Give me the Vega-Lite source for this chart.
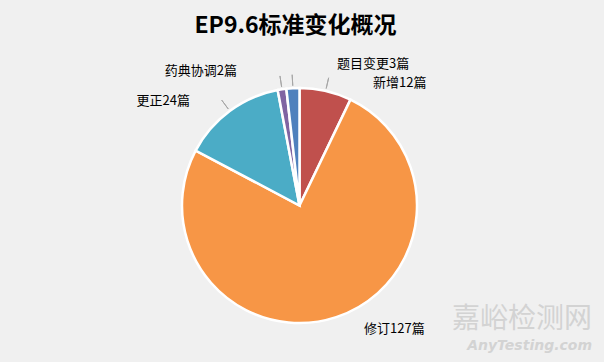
{
  "$schema": "https://vega.github.io/schema/vega-lite/v6.json",
  "width": 604,
  "height": 362,
  "autosize": {"type": "fit", "contains": "padding"},
  "padding": {"left": 0, "right": 5, "top": 15, "bottom": 0},
  "background": "#f0f0f0",
  "title": {
    "text": "EP9.6标准变化概况",
    "font": "Noto Sans CJK SC",
    "fontSize": 23,
    "fontWeight": "bold",
    "color": "#000000",
    "anchor": "middle",
    "offset": 11,
    "dx": -4
  },
  "config": {"view": {"stroke": null}, "text": {"font": "Noto Sans CJK SC", "fontSize": 13, "color": "#000000"}},
  "data": {
    "values": [
      {"类别": "新增", "篇数": 12, "标签": "新增12篇", "序": 1},
      {"类别": "修订", "篇数": 127, "标签": "修订127篇", "序": 2},
      {"类别": "更正", "篇数": 24, "标签": "更正24篇", "序": 3},
      {"类别": "药典协调", "篇数": 2, "标签": "药典协调2篇", "序": 4},
      {"类别": "题目变更", "篇数": 3, "标签": "题目变更3篇", "序": 5}
    ]
  },
  "layer": [
    {
      "mark": {"type": "arc", "outerRadius": 117.5, "stroke": "#ffffff", "strokeWidth": 2.5},
      "encoding": {
        "theta": {"field": "篇数", "type": "quantitative", "stack": true},
        "order": {"field": "序", "type": "quantitative"},
        "color": {
          "field": "类别",
          "type": "nominal",
          "scale": {"domain": ["新增", "修订", "更正", "药典协调", "题目变更"], "range": ["#C0504D", "#F79646", "#4BACC6", "#8064A2", "#4F81BD"]},
          "legend": null
        }
      }
    },
    {
      "mark": {"type": "arc", "outerRadius": 131, "innerRadius": 120, "padAngle": 3, "filled": false, "stroke": "#a6a6a6", "strokeWidth": 1},
      "encoding": {
        "theta": {"field": "篇数", "type": "quantitative", "stack": true},
        "order": {"field": "序", "type": "quantitative"},
        "detail": {"field": "类别"},
        "strokeOpacity": {"condition": {"test": "datum['类别'] === '修订'", "value": 0}, "value": 1}
      }
    },
    {
      "mark": {"type": "text", "align": "left", "baseline": "middle", "dx": 45.7, "dy": -0.6},
      "encoding": {
        "theta": {"field": "篇数", "type": "quantitative", "stack": true},
        "order": {"field": "序", "type": "quantitative"},
        "detail": {"field": "类别"},
        "radius": {"value": 125},
        "text": {"field": "标签"},
        "opacity": {"condition": {"test": "datum['类别'] === '新增'", "value": 1}, "value": 0}
      }
    },
    {
      "mark": {"type": "text", "align": "left", "baseline": "middle", "dx": 44.5, "dy": -17},
      "encoding": {
        "theta": {"field": "篇数", "type": "quantitative", "stack": true},
        "order": {"field": "序", "type": "quantitative"},
        "detail": {"field": "类别"},
        "radius": {"value": 125},
        "text": {"field": "标签"},
        "opacity": {"condition": {"test": "datum['类别'] === '题目变更'", "value": 1}, "value": 0}
      }
    },
    {
      "mark": {"type": "text", "align": "right", "baseline": "middle", "dx": -43.8, "dy": -10.9},
      "encoding": {
        "theta": {"field": "篇数", "type": "quantitative", "stack": true},
        "order": {"field": "序", "type": "quantitative"},
        "detail": {"field": "类别"},
        "radius": {"value": 125},
        "text": {"field": "标签"},
        "opacity": {"condition": {"test": "datum['类别'] === '药典协调'", "value": 1}, "value": 0}
      }
    },
    {
      "mark": {"type": "text", "align": "right", "baseline": "middle", "dx": -35.3, "dy": -3.9},
      "encoding": {
        "theta": {"field": "篇数", "type": "quantitative", "stack": true},
        "order": {"field": "序", "type": "quantitative"},
        "detail": {"field": "类别"},
        "radius": {"value": 125},
        "text": {"field": "标签"},
        "opacity": {"condition": {"test": "datum['类别'] === '更正'", "value": 1}, "value": 0}
      }
    },
    {
      "mark": {"type": "text", "align": "left", "baseline": "middle", "dx": 25.5, "dy": 4.7},
      "encoding": {
        "theta": {"field": "篇数", "type": "quantitative", "stack": true},
        "order": {"field": "序", "type": "quantitative"},
        "detail": {"field": "类别"},
        "radius": {"value": 125},
        "text": {"field": "标签"},
        "opacity": {"condition": {"test": "datum['类别'] === '修订'", "value": 1}, "value": 0}
      }
    },
    {
      "data": {"values": [{}]},
      "mark": {"type": "text", "text": "嘉峪检测网", "font": "Noto Sans CJK SC", "fontSize": 28, "color": "#d3d3d3", "align": "right", "baseline": "middle", "dx": -7, "dy": -42},
      "encoding": {"x": {"value": "width"}, "y": {"value": "height"}}
    },
    {
      "data": {"values": [{}]},
      "mark": {"type": "text", "text": "AnyTesting.com", "font": "DejaVu Sans", "fontSize": 14, "fontWeight": "bold", "fontStyle": "italic", "color": "#d3d3d3", "align": "right", "baseline": "middle", "dx": -7, "dy": -16},
      "encoding": {"x": {"value": "width"}, "y": {"value": "height"}}
    }
  ]
}
